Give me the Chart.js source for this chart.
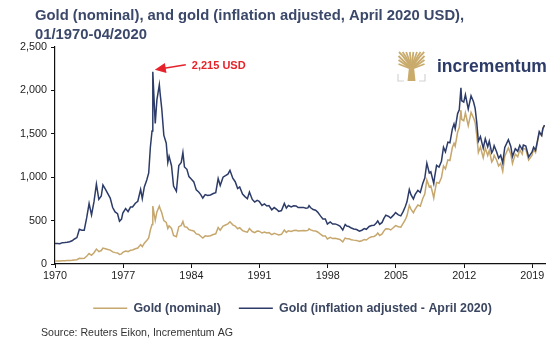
<!DOCTYPE html>
<html>
<head>
<meta charset="utf-8">
<script src="https://cdn.jsdelivr.net/npm/chart.js@4"></script>
<style>
  html, body { margin: 0; padding: 0; background: #fff; }
  #wrap { position: relative; width: 560px; height: 345px; }
</style>
</head>
<body>
<div id="wrap"><canvas id="c" width="560" height="345"></canvas></div>
<script>
const titleLines = ["Gold (nominal), and gold (inflation adjusted, April 2020 USD),", "01/1970-04/2020"];
const sourceText = "Source: Reuters Eikon, Incrementum AG";
const logoText = "incrementum";
const seriesNames = ["Gold (nominal)", "Gold (inflation adjusted - April 2020)"];
const peakLabel = "2,215 USD";
const peakYear = 1980.04;
const peakValue = 2215;
const xTickYears = [1970, 1977, 1984, 1991, 1998, 2005, 2012, 2019];
const yTickValues = [0, 500, 1000, 1500, 2000, 2500];

const years = [
1970.00,1970.25,1970.50,1970.75,1971.00,1971.25,1971.50,1971.75,1972.00,1972.25,1972.50,1972.75,
1973.00,1973.25,1973.50,1973.75,1974.00,1974.25,1974.50,1974.75,1974.92,1975.17,1975.42,1975.67,1975.92,
1976.17,1976.42,1976.62,1976.83,1976.96,1977.25,1977.50,1977.75,1977.96,1978.25,1978.50,1978.79,1978.96,
1979.17,1979.42,1979.62,1979.79,1979.96,1980.04,1980.21,1980.29,1980.46,1980.71,1980.79,1980.96,
1981.17,1981.42,1981.58,1981.71,1981.96,1982.17,1982.46,1982.71,1982.96,1983.13,1983.29,1983.54,1983.75,1983.96,
1984.25,1984.50,1984.75,1984.96,1985.17,1985.42,1985.67,1985.96,1986.25,1986.50,1986.75,1986.96,
1987.25,1987.50,1987.75,1987.96,1988.25,1988.50,1988.75,1988.96,1989.25,1989.50,1989.75,1989.96,
1990.25,1990.50,1990.75,1990.96,1991.25,1991.50,1991.75,1991.96,1992.25,1992.50,1992.75,1992.96,
1993.25,1993.54,1993.75,1993.96,1994.25,1994.50,1994.75,1994.96,1995.25,1995.50,1995.75,1995.96,
1996.08,1996.25,1996.50,1996.75,1996.96,1997.25,1997.50,1997.75,1997.96,1998.25,1998.50,1998.75,1998.96,
1999.25,1999.54,1999.79,1999.96,2000.17,2000.42,2000.67,2000.96,2001.25,2001.50,2001.75,2001.96,
2002.25,2002.50,2002.75,2002.96,2003.13,2003.33,2003.58,2003.75,2003.96,2004.25,2004.46,2004.75,2004.96,
2005.25,2005.50,2005.75,2005.96,2006.13,2006.37,2006.54,2006.79,2006.96,2007.25,2007.50,2007.75,2007.96,
2008.17,2008.42,2008.58,2008.79,2008.88,2008.96,2009.17,2009.42,2009.67,2009.88,
2010.08,2010.33,2010.54,2010.79,2010.96,2011.08,2011.33,2011.50,2011.67,2011.75,2011.96,
2012.13,2012.42,2012.71,2012.96,2013.13,2013.29,2013.46,2013.67,2013.96,
2014.17,2014.42,2014.58,2014.83,2014.96,2015.08,2015.33,2015.54,2015.75,2015.96,
2016.17,2016.54,2016.79,2016.96,2017.25,2017.50,2017.71,2017.96,2018.08,2018.33,2018.62,2018.96,
2019.13,2019.33,2019.54,2019.71,2019.96,2020.08,2020.25
];

const goldNominal = [
35,35.5,35.3,37.5,38,39,40.5,42.5,46,49,65,64,
65,90,120,100,130,172,143,155,183,176,168,160,140,
131,128,110,117,134,149,143,158,161,176,184,223,199,
240,270,300,392,456,668,553,503,600,666,640,590,
500,480,409,440,410,330,314,430,445,490,430,423,395,388,
380,347,341,320,300,324,320,326,340,348,420,390,
438,450,462,486,451,437,406,419,385,375,367,409,
374,362,380,378,357,368,357,362,338,353,344,335,
342,392,364,383,376,385,389,380,383,386,383,387,
405,393,383,380,369,344,324,324,289,307,293,296,291,
282,256,300,290,290,280,275,272,261,268,283,276,
302,313,317,333,357,328,347,379,407,404,392,420,442,
429,424,470,510,555,675,633,590,629,679,665,754,806,
968,889,900,806,760,816,940,930,995,1130,
1095,1200,1193,1342,1391,1356,1520,1572,1772,1665,1650,
1742,1594,1746,1684,1630,1485,1285,1348,1225,
1336,1250,1310,1175,1200,1251,1198,1130,1160,1068,
1243,1337,1266,1157,1266,1236,1315,1265,1331,1320,1198,1250,
1320,1285,1413,1510,1480,1560,1597
];

const goldReal = [
235,236,233,246,247,250,257,268,288,304,400,390,
390,531,696,565,715,920,744,783,911,862,810,760,651,
600,579,493,517,587,638,603,656,657,700,723,859,752,
888,967,1050,1345,1532,2215,1797,1620,1890,2065,1965,1788,
1485,1392,1170,1241,1132,898,838,1135,1170,1284,1118,1091,1007,982,
946,854,829,800,760,800,790,795,812,822,985,905,
1000,1017,1035,1079,988,948,869,888,805,776,752,830,
744,713,733,722,675,692,668,673,625,650,630,606,
616,698,644,674,658,670,669,650,651,652,643,646,
672,648,628,619,598,554,518,518,460,485,460,462,454,
437,392,456,438,432,414,404,397,378,389,408,400,
432,444,447,470,496,456,479,523,562,549,529,563,592,
566,555,606,663,716,857,798,749,799,849,825,927,991,
1162,1049,1062,967,927,996,1137,1116,1184,1345,
1292,1404,1396,1557,1614,1559,1733,1776,2030,1881,1865,
1951,1785,1938,1869,1793,1634,1414,1469,1335,
1443,1350,1415,1281,1308,1364,1294,1220,1253,1164,
1342,1431,1355,1238,1329,1298,1368,1316,1371,1360,1234,1288,
1346,1311,1427,1525,1480,1560,1600
];

const FONT = "'Liberation Sans', Arial, Helvetica, sans-serif";
const NAVY = '#2c3b68';
const GOLD = '#c6a76d';
const TITLE = '#3b4869';
const RED = '#e6232b';

const decorPlugin = {
  id: 'decor',
  afterLayout(chart) {
    // shift the legend box so its items sit where the reference places them
    if (chart.legend) { chart.legend.left = 40; }
  },
  afterDraw(chart) {
    const ctx = chart.ctx;
    const xs = chart.scales.x, ys = chart.scales.y;
    ctx.save();
    // title
    ctx.fillStyle = TITLE;
    ctx.font = 'bold 14.8px ' + FONT;
    ctx.textBaseline = 'alphabetic';
    ctx.textAlign = 'left';
    ctx.fillText(titleLines[0], 35, 20);
    ctx.fillText(titleLines[1], 35, 39);
    // source
    ctx.fillStyle = '#333';
    ctx.font = '10.6px ' + FONT;
    ctx.textBaseline = 'middle';
    ctx.fillText(sourceText, 41, 333);
    // peak annotation anchored to data
    const tx = xs.getPixelForValue(peakYear) + 2;
    const ty = ys.getPixelForValue(peakValue) - 2;
    ctx.strokeStyle = RED; ctx.fillStyle = RED; ctx.lineWidth = 1.6;
    const ex = tx + 31, ey = ty - 5;
    const ang = Math.atan2(ey - ty, ex - tx);
    ctx.beginPath();
    ctx.moveTo(tx + Math.cos(ang) * 8, ty + Math.sin(ang) * 8);
    ctx.lineTo(ex, ey);
    ctx.stroke();
    ctx.beginPath();
    ctx.moveTo(tx, ty);
    ctx.lineTo(tx + Math.cos(ang) * 11 - Math.sin(ang) * 5, ty + Math.sin(ang) * 11 + Math.cos(ang) * 5);
    ctx.lineTo(tx + Math.cos(ang) * 11 + Math.sin(ang) * 5, ty + Math.sin(ang) * 11 - Math.cos(ang) * 5);
    ctx.closePath();
    ctx.fill();
    ctx.font = 'bold 11px ' + FONT;
    ctx.textBaseline = 'middle';
    ctx.fillText(peakLabel, tx + 37, ty - 4);
    // logo icon
    const lx = 398, ly = 52;
    const LG = '#c9ab6c';
    ctx.strokeStyle = LG; ctx.lineWidth = 1.8;
    const cx = lx + 13.5, by = ly + 17;
    for (let i = 0; i < 8; i++) {
      const px = lx + 1 + i * 3.6;
      ctx.beginPath(); ctx.moveTo(cx, by + 2); ctx.quadraticCurveTo(cx + (px - cx) * 0.25, ly + 9, px, ly); ctx.stroke();
    }
    for (let k = 0; k < 3; k++) {
      ctx.beginPath(); ctx.moveTo(cx, by); ctx.lineTo(lx + 0.5, ly + 4 + k * 4); ctx.stroke();
      ctx.beginPath(); ctx.moveTo(cx, by); ctx.lineTo(lx + 26.5, ly + 4 + k * 4); ctx.stroke();
    }
    ctx.fillStyle = LG;
    ctx.beginPath();
    ctx.moveTo(cx - 2.5, by - 2); ctx.lineTo(cx + 2.5, by - 2);
    ctx.lineTo(cx + 4, ly + 29); ctx.lineTo(cx - 4, ly + 29); ctx.closePath(); ctx.fill();
    ctx.strokeStyle = '#d4d4d4'; ctx.lineWidth = 1.2;
    ctx.beginPath(); ctx.moveTo(lx, ly + 22); ctx.lineTo(lx, ly + 29); ctx.lineTo(lx + 6, ly + 29); ctx.stroke();
    ctx.beginPath(); ctx.moveTo(lx + 27, ly + 22); ctx.lineTo(lx + 27, ly + 29); ctx.lineTo(lx + 21, ly + 29); ctx.stroke();
    // logo text
    ctx.fillStyle = NAVY;
    ctx.font = 'bold 17.5px ' + FONT;
    ctx.textBaseline = 'middle';
    ctx.fillText(logoText, 437, 67);
    ctx.restore();
  }
};

const toPoints = (vals) => vals.map((v, i) => ({ x: years[i], y: v }));

new Chart(document.getElementById('c'), {
  type: 'line',
  data: {
    datasets: [
      { label: seriesNames[0], data: toPoints(goldNominal), borderColor: GOLD, backgroundColor: GOLD,
        borderWidth: 1.5, pointRadius: 0, tension: 0, order: 1, pointStyle: 'line' },
      { label: seriesNames[1], data: toPoints(goldReal), borderColor: NAVY, backgroundColor: NAVY,
        borderWidth: 1.5, pointRadius: 0, tension: 0, order: 0, pointStyle: 'line' }
    ]
  },
  options: {
    responsive: false,
    animation: false,
    events: [],
    layout: { padding: { left: 10, right: 15, top: 47, bottom: 20.6 } },
    plugins: {
      title: { display: false },
      tooltip: { enabled: false },
      legend: {
        position: 'bottom',
        labels: {
          usePointStyle: true,
          pointStyleWidth: 34,
          padding: 18,
          color: '#3a4660',
          font: { family: FONT, size: 12.4, weight: 'bold' },
          sort: (a, b) => a.datasetIndex - b.datasetIndex
        }
      }
    },
    scales: {
      x: {
        type: 'linear',
        min: 1970,
        max: 2020.3,
        afterBuildTicks: (s) => { s.ticks = xTickYears.map(v => ({ value: v })); },
        afterFit: (s) => { s.height = 20; },
        ticks: { callback: (v) => String(v), color: '#222', font: { family: FONT, size: 10.8 }, padding: 2, maxRotation: 0, autoSkip: false },
        grid: { display: true, drawOnChartArea: false, drawTicks: true, tickLength: 4, color: '#111' },
        border: { display: true, color: '#111', width: 1.2 }
      },
      y: {
        min: 0,
        max: 2500,
        afterBuildTicks: (s) => { s.ticks = yTickValues.map(v => ({ value: v })); },
        afterFit: (s) => { s.width = 45; },
        ticks: { callback: (v) => v.toLocaleString('en-US'), color: '#222', font: { family: FONT, size: 10.8 }, padding: 4 },
        grid: { display: true, drawOnChartArea: false, drawTicks: true, tickLength: 4, color: '#111' },
        border: { display: true, color: '#111', width: 1.2 }
      }
    }
  },
  plugins: [decorPlugin]
});
</script>
</body>
</html>
